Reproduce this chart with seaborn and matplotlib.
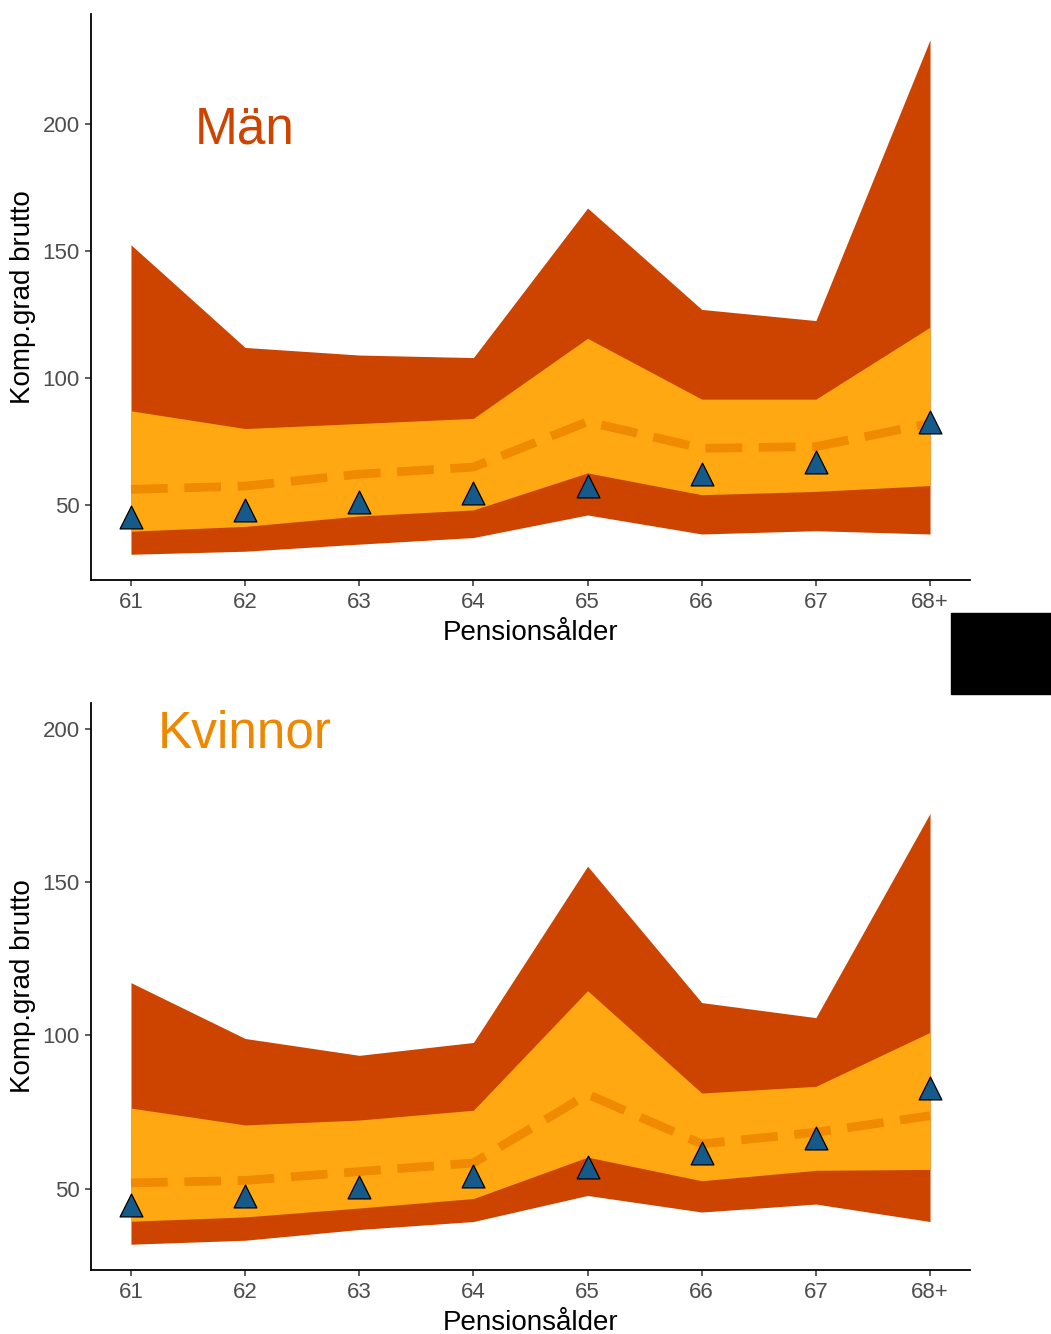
import numpy as np
import pandas as pd
import matplotlib
matplotlib.use("Agg")
import matplotlib.pyplot as plt
import seaborn as sns

# ---------------- data ----------------
ages = [61, 62, 63, 64, 65, 66, 67, 68]
age_labels = ["61", "62", "63", "64", "65", "66", "67", "68+"]

# Män
men_outer_hi = [152.5, 112, 109, 108, 167, 127, 122.6, 233.4]
men_inner_hi = [87, 80, 82, 84, 115.6, 91.6, 91.6, 120]
men_inner_lo = [39.5, 41.4, 45.5, 47.9, 62.5, 53.9, 55.2, 57.5]
men_outer_lo = [30.4, 31.6, 34.4, 37, 45.9, 38.4, 39.7, 38.4]
men_median = [56, 57.3, 62, 64.8, 82.7, 72.2, 72.9, 82]
men_points = [45.1, 47.9, 51, 54.6, 57.5, 62, 67, 82.7]

# Kvinnor
women_outer_hi = [117.2, 99, 93.5, 97.7, 155.2, 110.7, 105.8, 172.4]
women_inner_hi = [76.3, 70.8, 72.4, 75.6, 114.6, 81.2, 83.4, 101]
women_inner_lo = [39.4, 40.8, 43.7, 46.8, 60.3, 52.6, 56, 56.3]
women_outer_lo = [31.9, 33.2, 36.7, 39.3, 47.8, 42.4, 45, 39.3]
women_median = [51.9, 52.7, 55.6, 58.4, 80.8, 64.6, 68.4, 73.8]
women_points = [44.6, 47.5, 50.7, 54.1, 57, 61.6, 66.7, 82.7]

panel_titles = ["Män", "Kvinnor"]
title_colors = ["#CC4400", "#EE8800"]
label_x, label_y = 62, 200

# ---------------- style ----------------
sns.set_theme(style="ticks")
plt.rcParams["font.family"] = ["Liberation Sans", "DejaVu Sans"]

DARK = "#CC4400"
ORANGE = "#FFA812"
DASH = "#F08A00"
TRI = "#165A8C"

fig = plt.figure(figsize=(10.51, 13.34), dpi=100)
ax_top = fig.add_axes([91/1051, 1-580/1334, 879/1051, 566/1334])
ax_bot = fig.add_axes([91/1051, 1-1270/1334, 879/1051, 567/1334])

panels = [
    (ax_top, men_outer_hi, men_inner_hi, men_inner_lo, men_outer_lo, men_median, men_points),
    (ax_bot, women_outer_hi, women_inner_hi, women_inner_lo, women_outer_lo, women_median, women_points),
]

for i, (ax, ohi, ihi, ilo, olo, med, pts) in enumerate(panels):
    df = pd.DataFrame({"age": ages, "ohi": ohi, "ihi": ihi, "ilo": ilo,
                       "olo": olo, "med": med, "pts": pts})
    ax.fill_between(df["age"], df["olo"], df["ohi"], color=DARK, lw=0, zorder=1)
    ax.fill_between(df["age"], df["ilo"], df["ihi"], color=ORANGE, lw=0, zorder=2)
    sns.lineplot(data=df, x="age", y="med", ax=ax, color=DASH, lw=6.3,
                 zorder=3, legend=False)
    ax.lines[-1].set_dashes((4.2, 1.9))
    ax.lines[-1].set_dash_capstyle("butt")
    sns.scatterplot(data=df, x="age", y="pts", ax=ax, marker="^", s=270,
                    color=TRI, edgecolor="black", linewidth=0.9, zorder=4,
                    legend=False)
    ax.text(label_x, label_y, panel_titles[i], color=title_colors[i],
            fontsize=37, ha="center", va="center_baseline", zorder=5)

    lo = min(min(olo), label_y)
    hi = max(max(ohi), label_y)
    pad = (hi - lo) * 0.05
    ax.set_ylim(lo - pad, hi + pad)
    ax.set_xlim(61 - 0.35, 68 + 0.35)
    ax.set_xticks(ages)
    ax.set_xticklabels(age_labels)
    ax.set_yticks([50, 100, 150, 200])
    ax.set_xlabel("Pensionsålder", fontsize=20, color="black", labelpad=5)
    ax.set_ylabel("Komp.grad brutto", fontsize=20, color="black", labelpad=5)
    ax.tick_params(axis="both", labelsize=16, labelcolor="#4D4D4D",
                   color="#333333", length=4, width=1.1, pad=4)
    ax.tick_params(axis="x", pad=5)
    for s in ["top", "right"]:
        ax.spines[s].set_visible(False)
    for s in ["left", "bottom"]:
        ax.spines[s].set_color("black")
        ax.spines[s].set_linewidth(1.3)
    ax.set_facecolor("white")

# black redaction block on the right margin
fig.patches.append(plt.Rectangle((951/1051, 1-694/1334), 100/1051, 81/1334,
                                 transform=fig.transFigure, color="black",
                                 zorder=10))

fig.savefig("out.png", dpi=100, facecolor="white")
